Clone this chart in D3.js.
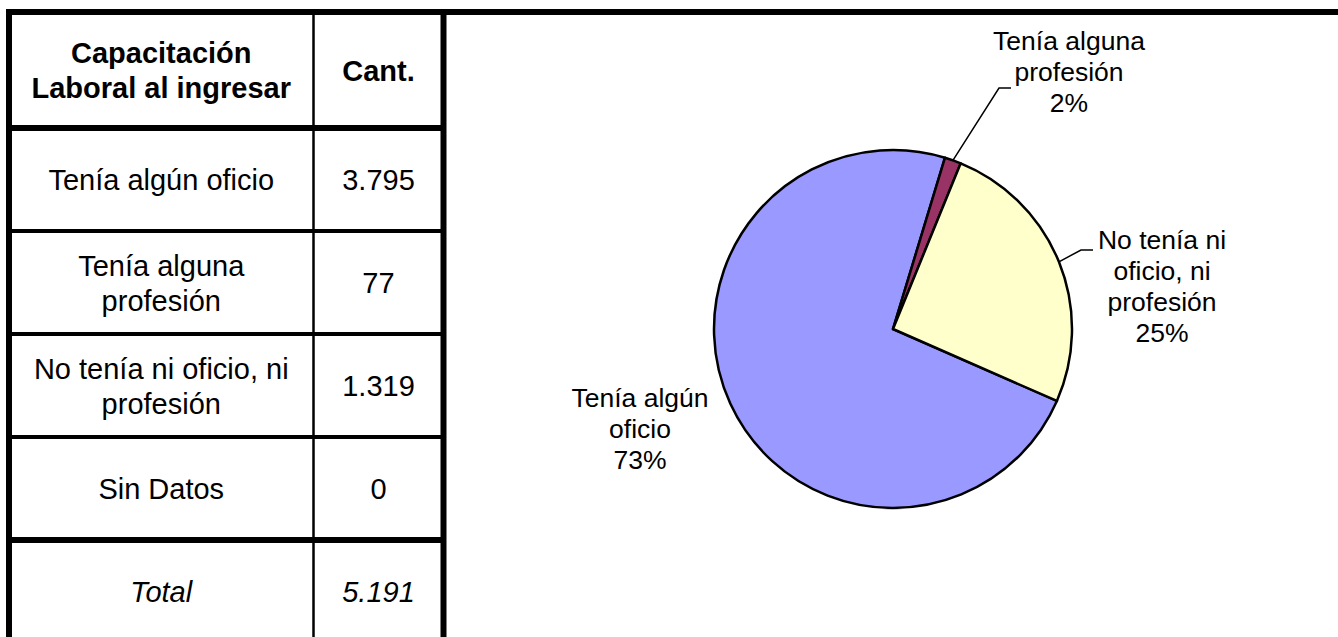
<!DOCTYPE html>
<html>
<head>
<meta charset="utf-8">
<script src="https://cdn.jsdelivr.net/npm/d3@7"></script>
<style>
  body { margin: 0; background: #fff; }
  svg { display: block; font-family: "Liberation Sans", Arial, sans-serif; }
</style>
</head>
<body>
<div id="chart"></div>
<script>
// data
const categories = ["Tenía algún oficio", "Tenía alguna profesión", "No tenía ni oficio, ni profesión", "Sin Datos"];
const values = [3795, 77, 1319, 0];
const tableLines = [["Tenía algún oficio"], ["Tenía alguna", "profesión"], ["No tenía ni oficio, ni", "profesión"], ["Sin Datos"]];
const pieLines = [["Tenía algún", "oficio"], ["Tenía alguna", "profesión"], ["No tenía ni", "oficio, ni", "profesión"], []];
const headerLines = [["Capacitación", "Laboral al ingresar"], ["Cant."]];
const totalLabel = "Total";
const colors = ["#9999FF", "#993366", "#FFFFCC", "#00FFFF"];

const W = 1338, H = 637;
const svg = d3.select("#chart").append("svg").attr("width", W).attr("height", H);

const fmt = d3.formatLocale({ decimal: ",", thousands: ".", grouping: [3], currency: ["$", ""] }).format(",");
const total = d3.sum(values);

// ---------- table ----------
const colX = { left: 9, mid: 313.5, right: 443.5 };
const rowNames = categories.concat([totalLabel]);
const y = d3.scaleBand().domain(rowNames).range([128, 128 + 103 * rowNames.length]);
const lh = 35, cap = 10.5;

function cellText(lines, cx, cy, opts) {
  const t = svg.append("text")
    .attr("text-anchor", "middle")
    .style("font-size", "29px")
    .style("font-weight", opts && opts.bold ? "bold" : "normal")
    .style("font-style", opts && opts.italic ? "italic" : "normal");
  lines.forEach((l, i) => {
    t.append("tspan").attr("x", cx)
      .attr("y", cy - (lines.length - 1) * lh / 2 + cap + i * lh)
      .text(l);
  });
}

const c1 = (colX.left + colX.mid) / 2, c2 = (colX.mid + colX.right) / 2;
cellText(headerLines[0], c1, 70, { bold: true });
cellText(headerLines[1], c2, 70, { bold: true });
categories.forEach((c, i) => {
  const cy = y(c) + y.bandwidth() / 2;
  cellText(tableLines[i], c1, cy);
  cellText([fmt(values[i])], c2, cy);
});
const ty = y(totalLabel) + y.bandwidth() / 2;
cellText([totalLabel], c1, ty, { italic: true });
cellText([fmt(total)], c2, ty, { italic: true });

// grid lines
const line = (x1, y1, x2, y2, w) => svg.append("line")
  .attr("x1", x1).attr("y1", y1).attr("x2", x2).attr("y2", y2)
  .attr("stroke", "#000").attr("stroke-width", w);

categories.slice(1).forEach(c => line(6, y(c), 446, y(c), 4));
line(6, y(categories[0]), 446, y(categories[0]), 6);
line(6, y(totalLabel), 446, y(totalLabel), 6);
line(colX.mid, 12, colX.mid, H, 2.5);
line(colX.left, 9, colX.left, H, 6);
line(colX.right, 9, colX.right, H, 6);
line(6, 12, W, 12, 6);

// ---------- pie ----------
const cx = 893, cy = 329, r = 179;
const start = 113.7 * Math.PI / 180;

// percentages rounded so they sum to 100 (largest remainder)
const raw = values.map(v => v / total * 100);
const pct = raw.map(Math.floor);
let rest = 100 - d3.sum(pct);
d3.range(values.length).sort((a, b) => (raw[b] - pct[b]) - (raw[a] - pct[a]))
  .forEach(i => { if (rest > 0) { pct[i]++; rest--; } });

const pie = d3.pie().sort(null).value(d => d.value).startAngle(start).endAngle(start + 2 * Math.PI);
const slices = pie(values.map((v, i) => ({ value: v, i }))).filter(d => d.data.value > 0);
const arc = d3.arc().innerRadius(0).outerRadius(r);

const g = svg.append("g").attr("transform", `translate(${cx},${cy})`);
g.selectAll("path").data(slices).enter().append("path")
  .attr("d", arc)
  .attr("fill", d => colors[d.data.i])
  .attr("stroke", "#000")
  .attr("stroke-width", 2.5)
  .attr("stroke-linejoin", "round");

// label placement (relative to pie centre)
const labelPos = [
  { dx: -253, dy: 78 },
  { dx: 176, dy: -279, lead: [118, -241] },
  { dx: 269, dy: -80, lead: [200, -79] }
];

slices.forEach(d => {
  const p = labelPos[d.data.i];
  const lines = pieLines[d.data.i].concat([pct[d.data.i] + "%"]);
  const t = g.append("text").attr("text-anchor", "middle").style("font-size", "26.5px");
  lines.forEach((l, k) => t.append("tspan").attr("x", p.dx).attr("y", p.dy + k * 31).text(l));
  if (p.lead) {
    const a = (d.startAngle + d.endAngle) / 2;
    const s = [r * Math.sin(a), -r * Math.cos(a)];
    g.append("polyline")
      .attr("points", [s, [p.lead[0] - 12, p.lead[1]], p.lead].map(q => q.join(",")).join(" "))
      .attr("fill", "none").attr("stroke", "#000").attr("stroke-width", 1.5);
  }
});
</script>
</body>
</html>
